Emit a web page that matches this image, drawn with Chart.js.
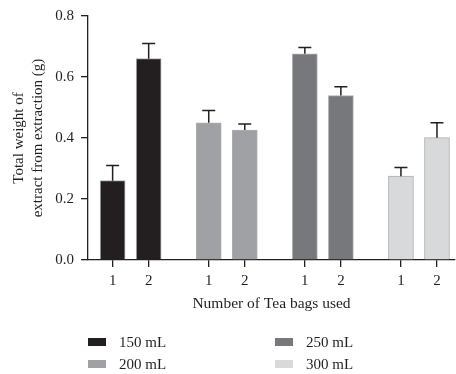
<!DOCTYPE html>
<html>
<head>
<meta charset="utf-8">
<script src="https://cdn.jsdelivr.net/npm/chart.js@4/dist/chart.umd.min.js"></script>
<style>
  html, body { margin: 0; padding: 0; background: #fff; }
  #wrap { position: relative; width: 456px; height: 374px; }
  #chart { position: absolute; left: 0; top: 0; }
  .lg { position: absolute; font: 15px "Liberation Serif", serif; color: #231f20; line-height: 16px; }
  .lg span { display: inline-block; width: 18px; height: 8px; margin-right: 13px; vertical-align: 1px; }
</style>
</head>
<body>
<div id="wrap">
  <canvas id="chart" width="456" height="374"></canvas>
  <div id="legend"></div>
</div>
<script>
// ===== 数据 =====
const volumes = ['150 mL', '200 mL', '250 mL', '300 mL'];
const colors = ['#231f20', '#a0a1a5', '#77787b', '#d8d9db'];
const bagLabels = ['1', '2'];
// 每组两个柱子（1 袋 / 2 袋）在 x 轴上的位置
const positions = [[0, 3], [8, 11], [16, 19], [24, 27]];
const means = [[0.26, 0.66], [0.45, 0.426], [0.676, 0.539], [0.275, 0.401]];
const errors = [[0.05, 0.05], [0.04, 0.02], [0.021, 0.029], [0.028, 0.049]];
const yTicks = [0, 0.2, 0.4, 0.6, 0.8];

const INK = '#231f20';
const FONT = '"Liberation Serif", serif';

const datasets = volumes.map((v, i) => ({
    label: v,
    data: positions[i].map((x, j) => ({ x: x, y: means[i][j], err: errors[i][j] })),
    backgroundColor: colors[i],
    borderColor: 'rgba(120,120,120,0.6)',
    borderWidth: 1,
    barThickness: 25,
    grouped: false
}));

// 误差线（只画向上的一半）
const errorBars = {
    id: 'errorBars',
    afterDatasetsDraw(chart) {
        const { ctx, scales: { x, y } } = chart;
        ctx.save();
        ctx.strokeStyle = INK;
        ctx.lineWidth = 1.5;
        chart.data.datasets.forEach(ds => {
            ds.data.forEach(p => {
                const px = x.getPixelForValue(p.x);
                const top = y.getPixelForValue(p.y);
                const end = y.getPixelForValue(p.y + p.err);
                ctx.beginPath();
                ctx.moveTo(px, top);
                ctx.lineTo(px, end);
                ctx.moveTo(px - 6.5, end);
                ctx.lineTo(px + 6.5, end);
                ctx.stroke();
            });
        });
        ctx.restore();
    }
};

const allPositions = positions.flat();

new Chart(document.getElementById('chart'), {
    type: 'bar',
    data: { datasets: datasets },
    plugins: [errorBars],
    options: {
        responsive: false,
        animation: false,
        layout: { padding: { left: 0, top: 14, right: 1, bottom: 58 } },
        plugins: { legend: { display: false }, tooltip: { enabled: false } },
        scales: {
            x: {
                type: 'linear',
                min: -2.05,
                max: 28.5,
                offset: false,
                afterBuildTicks: s => { s.ticks = allPositions.map(v => ({ value: v })); },
                afterFit: s => { s.height = 56; },
                grid: { offset: false, drawOnChartArea: false, drawTicks: true, tickLength: 7, color: INK, lineWidth: 1.3 },
                border: { display: true, color: INK, width: 1.3 },
                ticks: {
                    autoSkip: false,
                    maxRotation: 0,
                    padding: 5,
                    color: INK,
                    font: { family: FONT, size: 15 },
                    callback: (val, idx) => bagLabels[idx % 2]
                },
                title: {
                    display: true,
                    text: 'Number of Tea bags used',
                    color: INK,
                    font: { family: FONT, size: 15.5 },
                    padding: { top: 0, bottom: 3 }
                }
            },
            y: {
                min: 0,
                max: 0.8,
                afterBuildTicks: s => { s.ticks = yTicks.map(v => ({ value: v })); },
                afterFit: s => { s.width = 88; },
                grid: { drawOnChartArea: false, drawTicks: true, tickLength: 7, color: INK, lineWidth: 1.3 },
                border: { display: true, color: INK, width: 1.3 },
                ticks: {
                    padding: 7,
                    color: INK,
                    font: { family: FONT, size: 15 },
                    callback: v => v.toFixed(1)
                },
                title: {
                    display: true,
                    text: ['Total weight of', 'extract from extraction (g)'],
                    color: INK,
                    font: { family: FONT, size: 15, lineHeight: 1.3 },
                    padding: { top: 9, bottom: 0 }
                }
            }
        }
    }
});

// 图例：两列，按列排列（150/200 左列，250/300 右列）
const legendBox = document.getElementById('legend');
const legendCols = [88, 275];
const legendRows = [334, 356];
volumes.forEach((v, i) => {
    const item = document.createElement('div');
    item.className = 'lg';
    item.style.left = legendCols[Math.floor(i / 2)] + 'px';
    item.style.top = legendRows[i % 2] + 'px';
    item.innerHTML = '<span style="background:' + colors[i] + '"></span>' + v;
    legendBox.appendChild(item);
});
</script>
</body>
</html>
